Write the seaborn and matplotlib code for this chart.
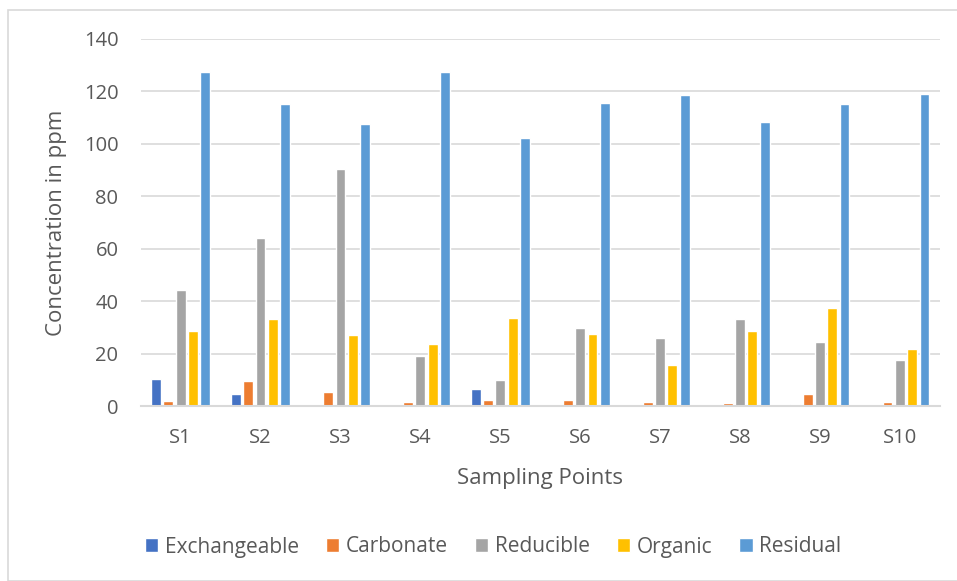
import numpy as np
import pandas as pd
import seaborn as sns
import matplotlib.pyplot as plt
from matplotlib.patches import Rectangle

sites = ['S1', 'S2', 'S3', 'S4', 'S5', 'S6', 'S7', 'S8', 'S9', 'S10']
fractions = ['Exchangeable', 'Carbonate', 'Reducible', 'Organic', 'Residual']

exchangeable = [10.3, 4.8, 0.5, 0.3, 6.7, 0.0, 0.2, 0.0, 0.9, 0.3]
carbonate = [1.8, 9.4, 5.5, 1.5, 2.2, 2.2, 1.5, 1.1, 4.7, 1.5]
reducible = [44.2, 64.0, 90.5, 19.2, 10.0, 29.6, 26.0, 33.3, 24.6, 17.5]
organic = [28.5, 33.4, 27.0, 23.5, 33.5, 27.5, 15.8, 28.5, 37.3, 21.7]
residual = [127.5, 115.0, 107.5, 127.2, 102.2, 115.5, 118.5, 108.5, 115.0, 119.0]

colors = ['#4472C4', '#ED7D31', '#A5A5A5', '#FFC000', '#5B9BD5']

df = pd.DataFrame({'Site': sites, 'Exchangeable': exchangeable, 'Carbonate': carbonate,
                   'Reducible': reducible, 'Organic': organic, 'Residual': residual})
long = df.melt(id_vars='Site', var_name='Fraction', value_name='ppm')

sns.set_style('white')
plt.rcParams['font.family'] = ['Open Sans', 'DejaVu Sans']
txt = '#595959'

fig = plt.figure(figsize=(9.57, 5.81), dpi=100)
ax = fig.add_axes([0.147, 0.301, 0.835, 0.632])

sns.barplot(data=long, x='Site', y='ppm', hue='Fraction', order=sites, hue_order=fractions,
            palette=colors, width=0.77, gap=0.2, saturation=1, ax=ax, legend=True)

ax.set_ylim(0, 140)
ax.set_yticks(range(0, 141, 20))
ax.yaxis.grid(True, color='#D9D9D9', linewidth=1.2)
ax.set_axisbelow(True)
for s in ['top', 'right', 'left']:
    ax.spines[s].set_visible(False)
ax.spines['bottom'].set_color('#D9D9D9')
ax.spines['bottom'].set_linewidth(1.5)
ax.tick_params(axis='both', length=0, labelsize=14.5, colors=txt)
ax.tick_params(axis='x', pad=16)
ax.tick_params(axis='y', pad=16)
ax.set_xlabel('Sampling Points', fontsize=16, color=txt, labelpad=14)
ax.set_ylabel('Concentration in ppm', fontsize=16, color=txt, labelpad=12)

handles, labels = ax.get_legend_handles_labels()
ax.legend(handles, labels, loc='center', bbox_to_anchor=(0.515, 1 - 547 / 581),
          bbox_transform=fig.transFigure, ncol=5, frameon=False, fontsize=15,
          handlelength=0.65, handleheight=0.65, handletextpad=0.3, columnspacing=1.3,
          labelcolor=txt)

fig.patches.append(Rectangle((8 / 957, 0), 1.0, 1 - 10 / 581, transform=fig.transFigure,
                             fill=False, edgecolor='#D9D9D9', linewidth=1.2))

fig.savefig('out.png', dpi=100)
